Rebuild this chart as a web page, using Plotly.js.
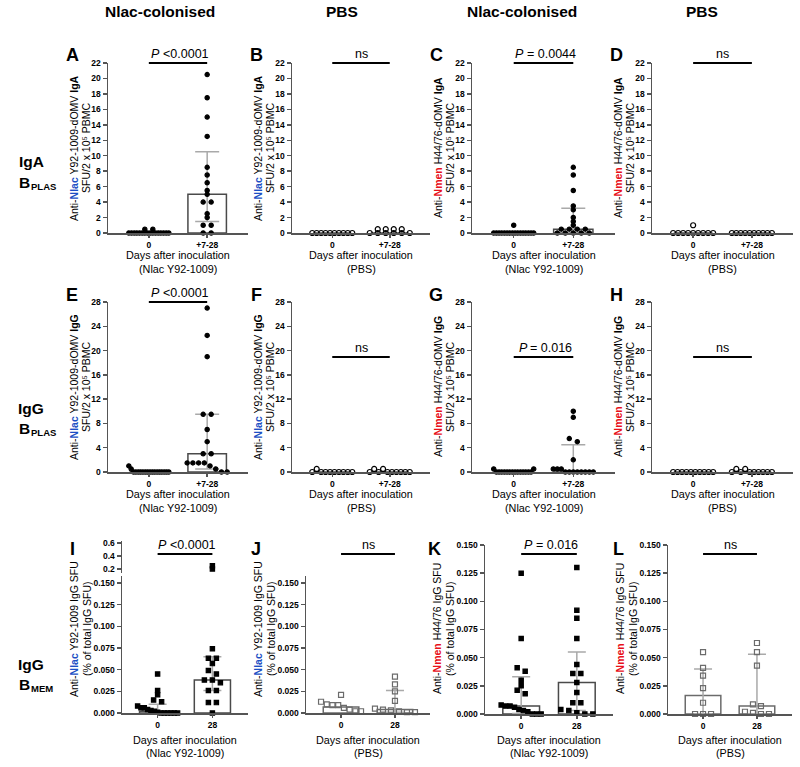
<!DOCTYPE html>
<html><head><meta charset="utf-8">
<script src="https://cdn.plot.ly/plotly-3.0.1.min.js"></script>
<style>html,body{margin:0;padding:0;background:#fff}#chart{width:800px;height:767px}</style>
</head><body><div id="chart"></div>
<script>
// ================= DATA =================
const plasTicks = ['0', '+7-28'];
const memTicks = ['0', '28'];

// A: anti-Nlac IgA plasma cells, Nlac-colonised
const A_day0 = [0.5, 0.5, 0, 0, 0, 0, 0, 0, 0, 0, 0, 0, 0, 0, 0, 0, 0, 0];
const A_late = [20.5, 17.5, 15, 12.5, 8.5, 7.5, 6.5, 5.5, 5, 4, 4, 2.5, 2, 1, 1, 0, 0];
const A_median = [0, 5], A_q1 = [0, 1.5], A_q3 = [0, 10.5];
// B: anti-Nlac IgA, PBS
const B_day0 = [0, 0, 0, 0, 0, 0, 0, 0, 0, 0];
const B_late = [0, 0, 0, 0, 0, 0, 0.5, 0.5, 0.5, 0.5];
const B_median = [0, 0], B_q1 = [0, 0], B_q3 = [0, 0];
// C: anti-Nmen IgA, Nlac-colonised
const C_day0 = [1, 0, 0, 0, 0, 0, 0, 0, 0, 0, 0, 0, 0, 0, 0, 0, 0];
const C_late = [8.5, 7.5, 5.5, 3.5, 3, 2, 1.5, 1, 0.5, 0.5, 0.5, 0.5, 0, 0, 0, 0, 0];
const C_median = [0, 0.5], C_q1 = [0, 0], C_q3 = [0, 3.2];
// D: anti-Nmen IgA, PBS
const D_day0 = [0, 0, 0, 0, 1, 0, 0, 0, 0, 0];
const D_late = [0, 0, 0, 0, 0, 0, 0, 0, 0, 0];
const D_median = [0, 0], D_q1 = [0, 0], D_q3 = [0, 0];
// E: anti-Nlac IgG plasma cells, Nlac-colonised
const E_day0 = [1, 0.5, 0, 0, 0, 0, 0, 0, 0, 0, 0, 0, 0, 0, 0, 0, 0, 0];
const E_late = [27, 22.5, 19, 9.5, 9.5, 7, 5, 3, 3, 1.5, 1.5, 1.5, 1.5, 1, 0.5, 0, 0];
const E_median = [0, 3], E_q1 = [0, 0.5], E_q3 = [0, 9.5];
// F: anti-Nlac IgG, PBS
const F_day0 = [0, 0.5, 0, 0, 0, 0, 0, 0, 0, 0];
const F_late = [0, 0.5, 0, 0.5, 0, 0, 0, 0, 0, 0];
const F_median = [0, 0], F_q1 = [0, 0], F_q3 = [0, 0];
// G: anti-Nmen IgG, Nlac-colonised
const G_day0 = [0.5, 0, 0, 0, 0, 0, 0, 0, 0, 0, 0, 0, 0, 0, 0, 0.5];
const G_late = [10, 9, 5.5, 5, 2, 0.5, 0.5, 0.5, 0, 0, 0, 0, 0, 0, 0, 0];
const G_median = [0, 0], G_q1 = [0, 0], G_q3 = [0, 4.5];
// H: anti-Nmen IgG, PBS
const H_day0 = [0, 0, 0, 0, 0, 0, 0, 0, 0, 0];
const H_late = [0, 0.5, 0, 0.5, 0, 0, 0, 0, 0, 0];
const H_median = [0, 0], H_q1 = [0, 0], H_q3 = [0, 0];
// I: anti-Nlac IgG memory (% of total IgG SFU), Nlac-colonised
const I_day0 = [0.045, 0.026, 0.021, 0.015, 0.013, 0.008, 0.006, 0.006, 0.004, 0.003, 0.002, 0.001, 0, 0, 0, 0, 0, 0];
const I_late = [0.25, 0.2, 0.074, 0.063, 0.063, 0.057, 0.049, 0.045, 0.038, 0.038, 0.035, 0.026, 0.026, 0.012, 0.012, 0];
const I_median = [0.002, 0.038], I_q1 = [0, 0.026], I_q3 = [0.01, 0.065];
// J: anti-Nlac IgG memory, PBS
const J_day0 = [0.021, 0.013, 0.01, 0.009, 0.009, 0.006, 0.004, 0.002, 0.002];
const J_late = [0.042, 0.033, 0.025, 0.014, 0.005, 0.004, 0.003, 0.002, 0.001, 0.001];
const J_median = [0.007, 0.004], J_q1 = [0.007, 0.001], J_q3 = [0.007, 0.026];
// K: anti-Nmen IgG memory, Nlac-colonised
const K_day0 = [0.125, 0.067, 0.041, 0.038, 0.030, 0.025, 0.021, 0.018, 0.008, 0.007, 0.007, 0.006, 0.004, 0.003, 0.002, 0, 0, 0];
const K_late = [0.13, 0.092, 0.085, 0.067, 0.044, 0.036, 0.036, 0.028, 0.019, 0.01, 0.01, 0.004, 0.003, 0.001, 0, 0];
const K_median = [0.007, 0.028], K_q1 = [0.0005, 0.003], K_q3 = [0.033, 0.055];
// L: anti-Nmen IgG memory, PBS
const L_day0 = [0.055, 0.041, 0.034, 0.023, 0.01, 0, 0, 0];
const L_late = [0.063, 0.055, 0.043, 0.0085, 0.007, 0.002, 0.001, 0, 0];
const L_median = [0.0165, 0.007], L_q1 = [0, 0], L_q3 = [0.04, 0.053];

// ================= STYLE / LAYOUT CONFIG =================
const W = 800, H = 767;
const px = x => x / W, py = y => 1 - y / H;
const FONT = 'Arial, "Liberation Sans", Helvetica, sans-serif';
const AX = '#555555';
const BLUE = '#1d4fc4', RED = '#e8101a';

const colPlas = [[108, 248], [292, 430], [472, 615], [652, 793]];
const colMem = [[122, 248], [306, 430], [485, 613], [668, 792]];

const nl = '<span style="color:' + BLUE + ';font-weight:bold">Nlac</span>';
const nm = '<span style="color:' + RED + ';font-weight:bold">Nmen</span>';
const bo = t => '<span style="font-weight:bold">' + t + '</span>';

const panels = [
  {L:'A', d0:A_day0, d1:A_late, med:A_median, q1:A_q1, q3:A_q3, row:0, col:0, pbs:false, t1:'Anti-'+nl+' Y92-1009-dOMV '+bo('IgA'), sigP:true, sig:'<0.0001', sx:[0,1]},
  {L:'B', d0:B_day0, d1:B_late, med:B_median, q1:B_q1, q3:B_q3, row:0, col:1, pbs:true, t1:'Anti-'+nl+' Y92-1009-dOMV '+bo('IgA'), sig:'ns', sx:[0,1]},
  {L:'C', d0:C_day0, d1:C_late, med:C_median, q1:C_q1, q3:C_q3, row:0, col:2, pbs:false, t1:'Anti-'+nm+' H44/76-dOMV '+bo('IgA'), sigP:true, sig:'= 0.0044', sx:[0,1]},
  {L:'D', d0:D_day0, d1:D_late, med:D_median, q1:D_q1, q3:D_q3, row:0, col:3, pbs:true, t1:'Anti-'+nm+' H44/76-dOMV '+bo('IgA'), sig:'ns', sx:[0,1]},
  {L:'E', d0:E_day0, d1:E_late, med:E_median, q1:E_q1, q3:E_q3, row:1, col:0, pbs:false, t1:'Anti-'+nl+' Y92-1009-dOMV '+bo('IgG'), sigP:true, sig:'<0.0001', sx:[0,1]},
  {L:'F', d0:F_day0, d1:F_late, med:F_median, q1:F_q1, q3:F_q3, row:1, col:1, pbs:true, t1:'Anti-'+nl+' Y92-1009-dOMV '+bo('IgG'), sig:'ns', sx:[0,1], sy:357},
  {L:'G', d0:G_day0, d1:G_late, med:G_median, q1:G_q1, q3:G_q3, row:1, col:2, pbs:false, t1:'Anti-'+nm+' H44/76-dOMV '+bo('IgG'), sigP:true, sig:'= 0.016', sx:[0,1], sy:357},
  {L:'H', d0:H_day0, d1:H_late, med:H_median, q1:H_q1, q3:H_q3, row:1, col:3, pbs:true, t1:'Anti-'+nm+' H44/76-dOMV '+bo('IgG'), sig:'ns', sx:[0,1], sy:357},
  {L:'I', d0:I_day0, d1:I_late, med:I_median, q1:I_q1, q3:I_q3, row:2, col:0, pbs:false, brk:true, t1:'Anti-'+nl+' Y92-1009 IgG SFU', sigP:true, sig:'<0.0001', sx:[0,1], sy:554},
  {L:'J', d0:J_day0, d1:J_late, med:J_median, q1:J_q1, q3:J_q3, row:2, col:1, pbs:true, brk:true, t1:'Anti-'+nl+' Y92-1009 IgG SFU', sig:'ns', sx:[0,1], sy:554},
  {L:'K', d0:K_day0, d1:K_late, med:K_median, q1:K_q1, q3:K_q3, row:2, col:2, pbs:false, t1:'Anti-'+nm+' H44/76 IgG SFU', sigP:true, sig:'= 0.016', sx:[0,1], sy:554},
  {L:'L', d0:L_day0, d1:L_late, med:L_median, q1:L_q1, q3:L_q3, row:2, col:3, pbs:true, t1:'Anti-'+nm+' H44/76 IgG SFU', sig:'ns', sx:[0,1], sy:554}
];

const rows = [
  {yb:233, yt:63, yr:[0,22], dtick:2, fmt:'d', xr:[-0.7,1.7], ticks:plasTicks, t2:'SFU/2 x 10\u2075 PBMC', xt1:255, xt2:269, sigY:63, lab:['IgA', 'PLAS'], labY:162},
  {yb:472, yt:302, yr:[0,28], dtick:4, fmt:'d', xr:[-0.7,1.7], ticks:plasTicks, t2:'SFU/2 x 10\u2075 PBMC', xt1:494, xt2:508, sigY:302, lab:['IgG', 'PLAS'], labY:408},
  {yb:714, yt:545, yr:[0,0.15], dtick:0.025, fmt:'.3f', xr:[-0.65,1.65], ticks:memTicks, t2:'(% of total IgG SFU)', xt1:740, xt2:753, sigY:554, lab:['IgG', 'MEM'], labY:664}
];

const traces = [];
const layout = {
  width: W, height: H, margin: {l:0, r:0, t:0, b:0}, showlegend: false,
  paper_bgcolor: '#ffffff', plot_bgcolor: 'rgba(0,0,0,0)',
  font: {family: FONT, color: '#000'},
  annotations: [], shapes: []
};

const mctx = document.createElement('canvas').getContext('2d');
function textW(t, size, style) { mctx.font = (style || 'normal') + ' ' + size + 'px "Liberation Sans", Arial, sans-serif'; return mctx.measureText(t).width; }

function ann(text, x, y, size, opts, bold, italic) {
  layout.annotations.push(Object.assign({text: text, x: px(x), y: py(y), xref: 'paper', yref: 'paper',
    showarrow: false, xanchor: 'center', yanchor: 'middle',
    font: {size: size, family: FONT, color: '#000', weight: bold ? 'bold' : 'normal', style: italic ? 'italic' : 'normal'}}, opts || {}));
}

// horizontal scatter layout (rows of near-equal values spread evenly)
function swarm(vals, ppuY, ppuX, center, gap, maxHalf, thr) {
  const idx = vals.map((v, i) => i).sort((a, b) => vals[a] - vals[b] || a - b);
  const groups = []; let cur = [idx[0]];
  for (let k = 1; k < idx.length; k++) {
    if ((vals[idx[k]] - vals[idx[k - 1]]) * ppuY < thr) cur.push(idx[k]);
    else { groups.push(cur); cur = [idx[k]]; }
  }
  groups.push(cur);
  const xs = new Array(vals.length);
  groups.forEach(g => {
    g.sort((a, b) => a - b);
    const n = g.length, s = n > 1 ? Math.min(gap, 2 * maxHalf / (n - 1)) : 0;
    g.forEach((i, k) => { xs[i] = center + ((k - (n - 1) / 2) * s) / ppuX; });
  });
  return xs;
}

function axisBase() {
  return {showline: true, linecolor: AX, linewidth: 1.5, ticks: 'outside', ticklen: 4, tickwidth: 1.5,
    tickcolor: AX, showgrid: false, zeroline: false, fixedrange: true,
    tickfont: {size: 8.5, family: FONT, color: '#000', weight: 'bold'}};
}

panels.forEach((p, i) => {
  const n = i + 1, id = n === 1 ? '' : String(n);
  const R = rows[p.row];
  const cx = (p.row === 2 ? colMem : colPlas)[p.col];
  let yb = R.yb, yt = R.yt, yr = R.yr.slice();
  let tickvals = null;
  if (p.brk) { yb = 713; yt = 576; yr = [0, 0.158]; tickvals = [0, 0.025, 0.05, 0.075, 0.1, 0.125, 0.15]; }
  const ppuY = (yb - yt) / (yr[1] - yr[0]);
  const ppuX = (cx[1] - cx[0]) / (R.xr[1] - R.xr[0]);
  const toPx = x => cx[0] + (x - R.xr[0]) * ppuX;

  const xa = Object.assign(axisBase(), {domain: [px(cx[0]), px(cx[1])], range: R.xr, anchor: 'y' + id,
    tickmode: 'array', tickvals: [0, 1], ticktext: R.ticks, ticklen: 3});
  const ya = Object.assign(axisBase(), {domain: [py(yb), py(yt)], range: yr, anchor: 'x' + id,
    tickformat: R.fmt});
  if (tickvals) { ya.tickmode = 'array'; ya.tickvals = tickvals; ya.ticktext = tickvals.map(v => v.toFixed(3)); }
  else { ya.tick0 = 0; ya.dtick = R.dtick; }
  layout['xaxis' + id] = xa;
  layout['yaxis' + id] = ya;

  let upId = null, upR = null;
  if (p.brk) {
    upId = String(12 + (p.col + 1));
    upR = [0.138, 0.631];
    layout['yaxis' + upId] = Object.assign(axisBase(), {domain: [py(573), py(541)], range: upR, anchor: 'x' + id,
      tickmode: 'array', tickvals: [0.2, 0.4, 0.6], ticktext: ['0.2', '0.4', '0.6']});
  }

  const edge = p.pbs ? (p.row === 2 ? '#6b6b6b' : '#000') : '#000';
  // bars (median)
  traces.push({type: 'bar', x: [0, 1], y: p.med, width: 0.66, xaxis: 'x' + id, yaxis: 'y' + id,
    marker: {color: '#ffffff', line: {color: p.pbs && p.row === 2 ? '#6b6b6b' : '#4a4a4a', width: 1.5}},
    hoverinfo: 'skip'});
  // interquartile range error bars
  [0, 1].forEach(g => {
    if (p.q3[g] > p.q1[g]) {
      traces.push({type: 'scatter', mode: 'markers', x: [g], y: [p.med[g]], xaxis: 'x' + id, yaxis: 'y' + id,
        marker: {size: 1, opacity: 0}, cliponaxis: false, hoverinfo: 'skip',
        error_y: {type: 'data', symmetric: false, array: [p.q3[g] - p.med[g]], arrayminus: [p.med[g] - p.q1[g]],
          color: '#a9a9a9', thickness: 1.5, width: p.row === 2 ? 9 : 12}});
    }
  });
  // individual points
  let sym, msize;
  if (p.row < 2) { sym = p.pbs ? 'circle-open' : 'circle'; msize = p.pbs ? 5 : 4.3; }
  else { sym = p.pbs ? 'square-open' : 'square'; msize = p.pbs ? 5 : 4.3; }
  [p.d0, p.d1].forEach((vals, g) => {
    const xs = swarm(vals, ppuY, ppuX, g, 8, 20, 3.5);
    const lowX = [], lowY = [], hiX = [], hiY = [];
    vals.forEach((v, k) => {
      if (upId && v > yr[1]) { hiX.push(xs[k]); hiY.push(v); } else { lowX.push(xs[k]); lowY.push(v); }
    });
    const mk = {symbol: sym, size: msize, color: edge, line: {color: edge, width: 1.2}};
    traces.push({type: 'scatter', mode: 'markers', x: lowX, y: lowY, xaxis: 'x' + id, yaxis: 'y' + id,
      marker: mk, cliponaxis: false, hoverinfo: 'skip'});
    if (hiX.length) traces.push({type: 'scatter', mode: 'markers', x: hiX, y: hiY, xaxis: 'x' + id, yaxis: 'y' + upId,
      marker: mk, cliponaxis: false, hoverinfo: 'skip'});
  });

  // significance bar
  const sy = p.sy || R.sigY;
  const sx0 = toPx(p.sx[0]), sx1 = toPx(p.sx[1]);
  layout.shapes.push({type: 'line', xref: 'paper', yref: 'paper', x0: px(sx0), x1: px(sx1), y0: py(sy), y1: py(sy),
    line: {color: '#000', width: 2}});
  const scx = (sx0 + sx1) / 2, FS = 12.5;
  if (p.sigP) {
    const wP = textW('P', FS, 'italic'), wS = textW(' ', FS), wR = textW(p.sig, FS);
    const left = scx - (wP + wS + wR) / 2;
    ann('P', left, sy - 9, FS, {xanchor: 'left'}, false, true);
    ann(p.sig.replace('<', '&lt;'), left + wP + wS, sy - 9, FS, {xanchor: 'left'});
  } else {
    ann(p.sig, scx, sy - 9, FS);
  }

  // panel letter
  const letterX = (p.row === 2 ? colMem : colPlas)[p.col][0] - (p.row === 2 ? 50 : 36);
  const letterY = [55, 295, 549][p.row];
  ann(p.L, letterX, letterY, 18, null, true);

  // axis titles
  const yc = [148, 387, 629][p.row];
  const o1 = p.row === 2 ? 48 : 34, o2 = p.row === 2 ? 35 : 22;
  ann(p.t1, cx[0] - o1, yc, 10.5, {textangle: -90});
  ann(R.t2, cx[0] - o2, yc, 10.5, {textangle: -90});
  const xc = (cx[0] + cx[1]) / 2;
  ann('Days after inoculation', xc, R.xt1, 10.8);
  ann(p.pbs ? '(PBS)' : '(Nlac Y92-1009)', xc, R.xt2, 10.8);
});

// column headers
ann('Nlac-colonised', 160, 12, 15.5, null, true);
ann('PBS', 342, 12, 15.5, null, true);
ann('Nlac-colonised', 522, 12, 15.5, null, true);
ann('PBS', 702, 12, 15.5, null, true);
// row labels (B with a subscript drawn as two texts)
rows.forEach(R => {
  ann(R.lab[0], 31, R.labY, 15.5, null, true);
  const wB = textW('B', 15.5, 'bold');
  ann('B', 17, R.labY + 20, 15.5, {xanchor: 'left'}, true);
  ann(R.lab[1], 17 + wB + 1, R.labY + 24, 9.5, {xanchor: 'left'}, true);
});

Plotly.newPlot('chart', traces, layout, {staticPlot: true, displayModeBar: false});
</script></body></html>
